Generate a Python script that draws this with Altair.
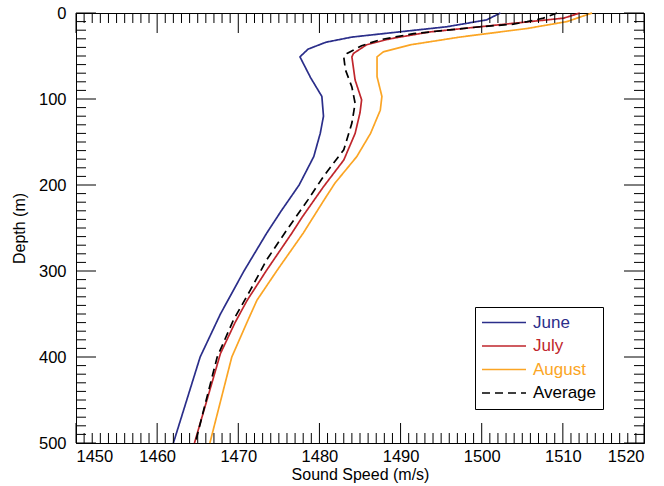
import altair as alt
import pandas as pd

# Sound-speed profiles (depth in m, speed in m/s)
SERIES = ["June", "July", "August", "Average"]
COLORS = ["#2b2e8a", "#c0262c", "#fba524", "#000000"]

JUNE_DEPTH = [0, 8, 16, 22, 28, 34, 42, 51, 75, 97, 120, 140, 167, 200, 230, 256, 300, 350, 400, 500]
JUNE_SPEED = [1502.3, 1500.6, 1495.7, 1489.8, 1484.0, 1480.8, 1478.6, 1477.6, 1478.9, 1480.3,
              1480.5, 1480.1, 1479.3, 1477.5, 1475.3, 1473.5, 1470.7, 1467.8, 1465.3, 1462.0]

JULY_DEPTH = [0, 6, 12, 16, 22, 30, 37, 47, 51, 78, 101, 116, 140, 171, 202, 237, 256, 299, 334, 360, 396, 500]
JULY_SPEED = [1512.1, 1510.1, 1503.9, 1499.8, 1493.6, 1488.7, 1485.8, 1484.2, 1484.0, 1484.4, 1485.2,
              1485.0, 1484.4, 1483.0, 1480.5, 1477.9, 1476.6, 1473.5, 1471.1, 1469.6, 1467.8, 1464.6]

AUG_DEPTH = [0, 10, 18, 28, 37, 45, 51, 74, 97, 113, 140, 167, 198, 217, 256, 299, 334, 357, 400, 500]
AUG_SPEED = [1513.6, 1510.5, 1505.6, 1497.3, 1491.2, 1487.9, 1487.1, 1487.1, 1487.7, 1487.5,
             1486.3, 1484.6, 1481.9, 1480.6, 1478.0, 1474.8, 1472.3, 1471.2, 1469.2, 1466.5]

AVG_DEPTH = [0, 6, 10, 13, 16, 20, 24, 31, 38, 47, 51, 66, 86, 105, 128, 159, 190, 217, 252, 287, 322, 357, 400, 500]
AVG_SPEED = [1509.3, 1507.6, 1505.6, 1503.9, 1499.8, 1495.7, 1491.6, 1487.5, 1485.2, 1483.4, 1483.0,
             1483.2, 1484.0, 1484.4, 1484.0, 1483.0, 1480.5, 1478.6, 1476.0, 1473.5, 1471.5, 1469.4,
             1467.4, 1464.7]

X_TICK_LABELS = list(range(1450, 1521, 10))
Y_TICK_LABELS = list(range(0, 501, 100))
X_MINOR = [v for v in range(1450, 1521) if v % 10 != 0]
Y_MINOR = [v for v in range(0, 501, 10) if v % 100 != 0]

W, H = 568, 430
FONT = "Liberation Sans"

rows = []
for name, depths, speeds in [("June", JUNE_DEPTH, JUNE_SPEED), ("July", JULY_DEPTH, JULY_SPEED),
                             ("August", AUG_DEPTH, AUG_SPEED), ("Average", AVG_DEPTH, AVG_SPEED)]:
    for d, s in zip(depths, speeds):
        rows.append({"series": name, "depth": d, "speed": s})
df = pd.DataFrame(rows)

x_scale = alt.Scale(domain=[1450, 1520], nice=False, zero=False)
y_scale = alt.Scale(domain=[0, 500], reverse=True, nice=False, zero=False)

axis_style = dict(ticks=False, tickSize=0, grid=False, format="d",
                  labelFont=FONT, titleFont=FONT, labelFontSize=16.5, titleFontSize=16,
                  labelColor="black", titleColor="black", titleFontWeight="normal",
                  domainColor="black")
x_axis = alt.Axis(values=X_TICK_LABELS, title="Sound Speed (m/s)",
                  labelPadding=5, titlePadding=2, **axis_style)
y_axis = alt.Axis(values=Y_TICK_LABELS, title="Depth (m)",
                  labelPadding=10, titlePadding=11, **axis_style)

label_color_expr = (
    "datum.label == 'June' ? '%s' : datum.label == 'July' ? '%s' : "
    "datum.label == 'August' ? '%s' : '%s'" % tuple(COLORS)
)

legend = alt.Legend(
    title=None, orient="none", legendX=399, legendY=294,
    strokeColor="black", fillColor="white", padding=6, cornerRadius=0,
    symbolType="stroke", symbolSize=1936, clipHeight=19, rowPadding=4.5,
    labelFontSize=17, labelFont=FONT, labelOffset=6,
    labelColor={"expr": label_color_expr},
)

lines = alt.Chart(df).mark_line(strokeCap="butt", interpolate="linear").encode(
    x=alt.X("speed:Q", scale=x_scale, axis=x_axis),
    y=alt.Y("depth:Q", scale=y_scale, axis=y_axis),
    color=alt.Color("series:N", scale=alt.Scale(domain=SERIES, range=COLORS), legend=legend),
    strokeDash=alt.StrokeDash("series:N",
                              scale=alt.Scale(domain=SERIES, range=[[1, 0], [1, 0], [1, 0], [8, 5]]),
                              legend=legend),
    strokeWidth=alt.StrokeWidth("series:N",
                                scale=alt.Scale(domain=SERIES, range=[1.7, 1.7, 1.7, 3]),
                                legend=legend),
    order=alt.Order("depth:Q"),
)

# Inward-pointing frame ticks on all four sides
x_minor_df = pd.DataFrame({"t": X_MINOR})
x_major_df = pd.DataFrame({"t": X_TICK_LABELS})
y_minor_df = pd.DataFrame({"t": Y_MINOR})
y_major_df = pd.DataFrame({"t": Y_TICK_LABELS})


def xticks(data, length):
    base = alt.Chart(data).mark_rule(color="black", strokeWidth=1)
    xe = alt.X("t:Q", scale=x_scale, axis=x_axis)
    bottom = base.encode(x=xe, y=alt.value(H), y2=alt.value(H - length))
    top = base.encode(x=xe, y=alt.value(0), y2=alt.value(length))
    return bottom + top


def yticks(data, length):
    base = alt.Chart(data).mark_rule(color="black", strokeWidth=1)
    ye = alt.Y("t:Q", scale=y_scale, axis=y_axis)
    left = base.encode(y=ye, x=alt.value(0), x2=alt.value(length))
    right = base.encode(y=ye, x=alt.value(W), x2=alt.value(W - length))
    return left + right


chart = alt.layer(
    lines,
    xticks(x_minor_df, 10), xticks(x_major_df, 20),
    yticks(y_minor_df, 10), yticks(y_major_df, 20),
).properties(
    width=W, height=H, background="white",
    autosize=alt.AutoSizeParams(type="none"),
    padding={"left": 76, "top": 13, "right": 20, "bottom": 43},
).configure_view(
    stroke="black", strokeWidth=1
)

chart.save("out.html", embed_options={"renderer": "svg", "actions": False})
